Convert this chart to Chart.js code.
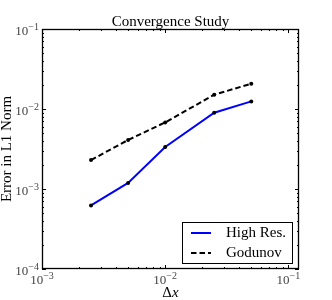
<!DOCTYPE html>
<html>
<head>
<meta charset="utf-8">
<script src="https://cdn.jsdelivr.net/npm/chart.js@4"></script>
<style>
  html, body { margin: 0; padding: 0; background: #fff; }
</style>
</head>
<body>
<canvas id="chart" width="332" height="300"></canvas>
<script>
// grid spacing and L1 errors
const dx = [0.0025, 0.005, 0.01, 0.025, 0.05];
const errHighRes = [6.24e-4, 1.19e-3, 3.35e-3, 8.99e-3, 1.245e-2];
const errGodunov = [2.30e-3, 4.10e-3, 6.80e-3, 1.51e-2, 2.07e-2];
const seriesLabels = ['High Res.', 'Godunov'];
const xTicks = [1e-3, 1e-2, 1e-1];
const yTicks = [1e-4, 1e-3, 1e-2, 1e-1];

const SERIF = '"Liberation Serif", "DejaVu Serif", serif';
const TICK_COLOR = '#444';

// "10" with a raised exponent, like matplotlib's mathtext labels
function drawPow(ctx, v, x, baseY, align) {
  const exp = '\u2212' + String(-Math.round(Math.log10(v)));
  ctx.font = '13px ' + SERIF;
  const wBase = ctx.measureText('10').width;
  ctx.font = '10px ' + SERIF;
  const wExp = ctx.measureText(exp).width;
  const total = wBase + wExp;
  const x0 = align === 'right' ? x - total : x - total / 2;
  ctx.textAlign = 'left';
  ctx.textBaseline = 'alphabetic';
  ctx.font = '13px ' + SERIF;
  ctx.fillText('10', x0, baseY);
  ctx.font = '10px ' + SERIF;
  ctx.fillText(exp, x0 + wBase, baseY - 5.5);
}

// matplotlib-like frame: inward major/minor ticks, labels, titles, boxed legend
const framePlugin = {
  id: 'frame',
  afterDraw(chart) {
    const { ctx, chartArea: a, scales: { x, y } } = chart;
    ctx.save();
    ctx.strokeStyle = '#000';
    ctx.lineWidth = 1;

    const decades = (s) => {
      const out = [];
      for (let k = Math.floor(Math.log10(s.min)); k <= Math.ceil(Math.log10(s.max)); k++) {
        for (let m = 1; m <= 9; m++) {
          const v = m * Math.pow(10, k);
          if (v >= s.min * 0.999 && v <= s.max * 1.001) out.push({ v, major: m === 1 });
        }
      }
      return out;
    };

    ctx.beginPath();
    decades(x).forEach(t => {
      const px = Math.round(x.getPixelForValue(t.v)) + 0.5;
      const len = t.major ? 4 : 2;
      ctx.moveTo(px, a.bottom); ctx.lineTo(px, a.bottom - len);
      ctx.moveTo(px, a.top); ctx.lineTo(px, a.top + len);
    });
    decades(y).forEach(t => {
      const py = Math.round(y.getPixelForValue(t.v)) + 0.5;
      const len = t.major ? 4 : 2;
      ctx.moveTo(a.left, py); ctx.lineTo(a.left + len, py);
      ctx.moveTo(a.right, py); ctx.lineTo(a.right - len, py);
    });
    ctx.stroke();

    ctx.lineWidth = 1.3;
    ctx.strokeRect(a.left + 0.5, a.top + 0.5, a.right - a.left - 1, a.bottom - a.top - 1);

    // tick labels
    ctx.fillStyle = TICK_COLOR;
    x.ticks.forEach(t => drawPow(ctx, t.value, x.getPixelForValue(t.value), a.bottom + 15, 'center'));
    y.ticks.forEach(t => drawPow(ctx, t.value, a.left - 3, y.getPixelForValue(t.value) + 6, 'right'));

    // title, centred over the plot area
    const cx = (a.left + a.right) / 2;
    ctx.fillStyle = '#000';
    ctx.font = '15px ' + SERIF;
    ctx.textAlign = 'center';
    ctx.textBaseline = 'alphabetic';
    ctx.fillText('Convergence Study', cx, 26);

    // x axis title: upright Delta, italic x
    ctx.textAlign = 'left';
    const wD = ctx.measureText('Δ').width;
    ctx.font = 'italic 15px ' + SERIF;
    const wX = ctx.measureText('x').width;
    ctx.font = '15px ' + SERIF;
    ctx.fillText('Δ', cx - (wD + wX) / 2, 297);
    ctx.font = 'italic 15px ' + SERIF;
    ctx.fillText('x', cx - (wD + wX) / 2 + wD, 297);

    // y axis title, rotated
    ctx.save();
    ctx.translate(11, (a.top + a.bottom) / 2);
    ctx.rotate(-Math.PI / 2);
    ctx.font = '15px ' + SERIF;
    ctx.textAlign = 'center';
    ctx.fillText('Error in L1 Norm', 0, 0);
    ctx.restore();

    // legend box in the lower right corner
    const bx = a.right - 117, by = a.bottom - 47, bw = 110, bh = 41;
    ctx.fillStyle = '#fff';
    ctx.fillRect(bx, by, bw, bh);
    ctx.lineWidth = 1;
    ctx.strokeStyle = '#000';
    ctx.strokeRect(bx + 0.5, by + 0.5, bw, bh);
    ctx.font = '15px ' + SERIF;
    ctx.textAlign = 'left';
    ctx.textBaseline = 'middle';
    chart.data.datasets.forEach((ds, i) => {
      const ly = by + 11 + i * 20;
      ctx.beginPath();
      ctx.strokeStyle = ds.borderColor;
      ctx.lineWidth = ds.borderWidth;
      ctx.setLineDash(ds.borderDash || []);
      ctx.moveTo(bx + 9, ly); ctx.lineTo(bx + 29, ly);
      ctx.stroke();
      ctx.setLineDash([]);
      ctx.fillStyle = '#000';
      ctx.fillText(ds.label, bx + 44, ly);
    });
    ctx.restore();
  }
};

new Chart(document.getElementById('chart'), {
  type: 'line',
  data: {
    datasets: [
      {
        label: seriesLabels[0],
        data: dx.map((v, i) => ({ x: v, y: errHighRes[i] })),
        borderColor: '#0000ff',
        borderWidth: 2,
        pointRadius: 2,
        pointBackgroundColor: '#000',
        pointBorderWidth: 0,
        tension: 0
      },
      {
        label: seriesLabels[1],
        data: dx.map((v, i) => ({ x: v, y: errGodunov[i] })),
        borderColor: '#000',
        borderWidth: 2,
        borderDash: [5.5, 3],
        pointRadius: 2,
        pointBackgroundColor: '#000',
        pointBorderWidth: 0,
        tension: 0
      }
    ]
  },
  options: {
    responsive: false,
    animation: false,
    layout: { padding: { top: 29, right: 33, left: 0, bottom: 0 } },
    plugins: {
      legend: { display: false },
      title: { display: false },
      tooltip: { enabled: false }
    },
    scales: {
      x: {
        type: 'logarithmic',
        min: 1e-3,
        max: 0.122,
        grid: { display: false, drawTicks: false },
        border: { display: false },
        afterBuildTicks: (s) => { s.ticks = xTicks.map(v => ({ value: v, major: true })); },
        afterFit: (s) => { s.height = 31; },
        ticks: { display: false, autoSkip: false, maxRotation: 0 }
      },
      y: {
        type: 'logarithmic',
        min: 1e-4,
        max: 1e-1,
        grid: { display: false, drawTicks: false },
        border: { display: false },
        afterBuildTicks: (s) => { s.ticks = yTicks.map(v => ({ value: v, major: true })); },
        afterFit: (s) => { s.width = 42; },
        ticks: { display: false, autoSkip: false }
      }
    }
  },
  plugins: [framePlugin]
});
</script>
</body>
</html>
